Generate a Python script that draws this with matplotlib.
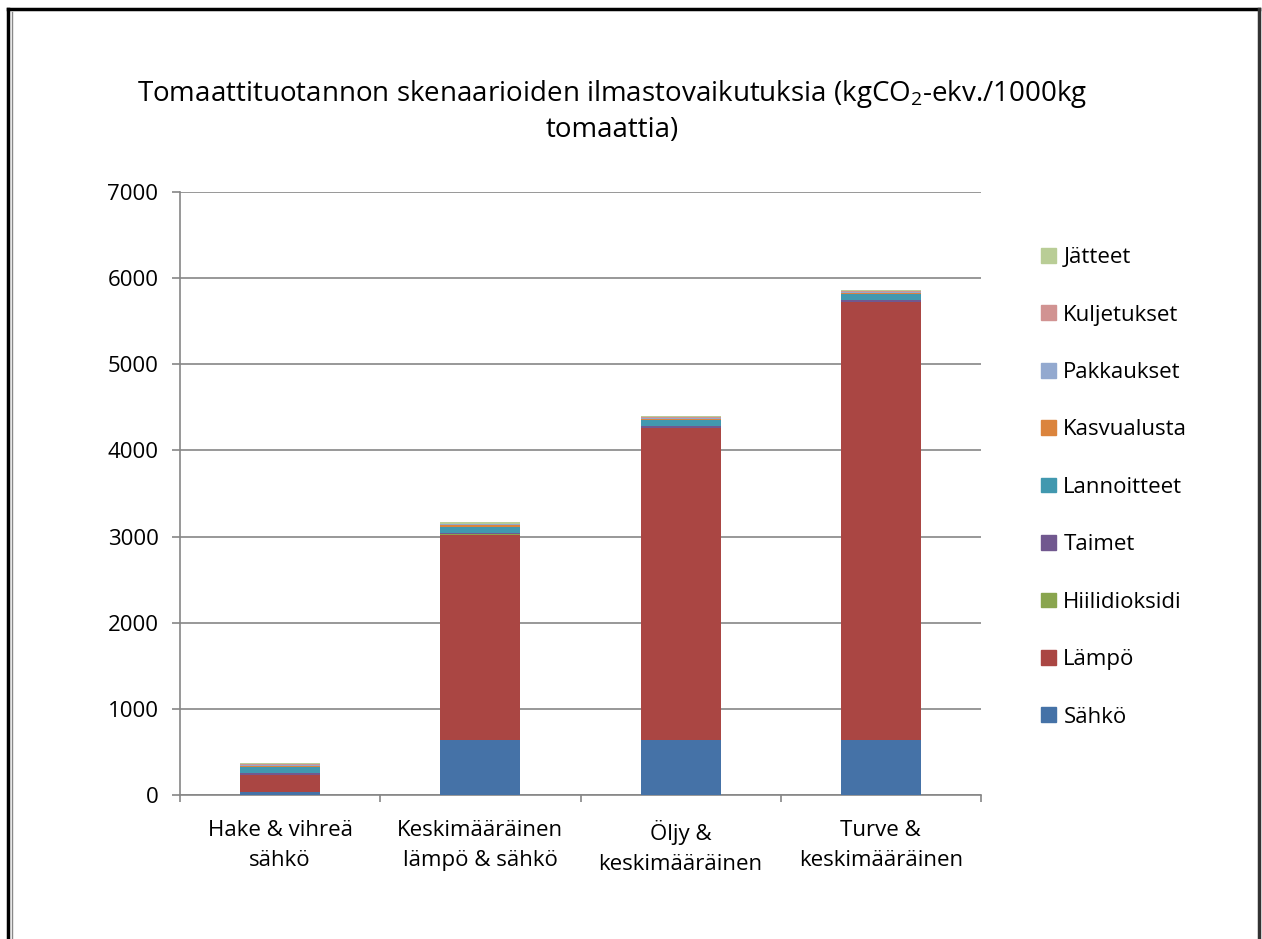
import numpy as np
import matplotlib.pyplot as plt
from matplotlib.patches import Rectangle
from matplotlib.lines import Line2D

plt.rcParams['font.family'] = ['Open Sans', 'DejaVu Sans']
plt.rcParams['mathtext.fontset'] = 'custom'
plt.rcParams['mathtext.rm'] = 'Open Sans'
plt.rcParams['mathtext.it'] = 'Open Sans'

# skenaariot
skenaariot = ["Hake & vihreä\nsähkö", "Keskimääräinen\nlämpö & sähkö",
              "Öljy &\nkeskimääräinen", "Turve &\nkeskimääräinen"]

# kgCO2-ekv./1000kg tomaattia, osuudet alhaalta ylös
sahko = [35, 640, 640, 640]
lampo = [195, 2380, 3620, 5080]
hiilidioksidi = [5, 5, 5, 5]
taimet = [20, 20, 20, 20]
lannoitteet = [70, 70, 70, 70]
kasvualusta = [15, 15, 15, 15]
pakkaukset = [12, 12, 12, 12]
kuljetukset = [8, 8, 8, 8]
jatteet = [15, 15, 15, 15]

osat = [("Sähkö", sahko, "#4572A7"),
        ("Lämpö", lampo, "#AA4643"),
        ("Hiilidioksidi", hiilidioksidi, "#89A54E"),
        ("Taimet", taimet, "#71588F"),
        ("Lannoitteet", lannoitteet, "#4198AF"),
        ("Kasvualusta", kasvualusta, "#DB843D"),
        ("Pakkaukset", pakkaukset, "#93A9CF"),
        ("Kuljetukset", kuljetukset, "#D19392"),
        ("Jätteet", jatteet, "#B9CD96")]

W, H = 1262, 939
fs = 16
fig = plt.figure(figsize=(W / 100, H / 100), dpi=100)
ax = fig.add_axes([180 / W, 1 - 795 / H, 801 / W, 603 / H])

x = np.arange(len(skenaariot))
pohja = np.zeros(len(skenaariot))
kahvat = []
for nimi, arvot, vari in osat:
    ax.bar(x, arvot, width=0.4, bottom=pohja, color=vari, zorder=3)
    pohja += np.array(arvot)
    kahvat.append((Rectangle((0, 0), 1, 1, color=vari), nimi))

ax.set_xlim(-0.5, len(skenaariot) - 0.5)
ax.set_ylim(0, 7000)
ax.set_yticks(range(0, 7001, 1000))
ax.yaxis.grid(True, color="#868686", lw=1.2, zorder=0)
for s in ["top", "right"]:
    ax.spines[s].set_visible(False)
for s in ["left", "bottom"]:
    ax.spines[s].set_color("#868686")
    ax.spines[s].set_linewidth(1.2)

ax.set_xticks(np.arange(-0.5, len(skenaariot)), labels=[])
ax.set_xticks(x, labels=skenaariot, minor=True)
ax.tick_params(axis="x", which="major", length=5, width=1.2, color="#868686")
ax.tick_params(axis="x", which="minor", length=0, pad=18, labelsize=fs)
ax.tick_params(axis="y", length=5.5, width=1.2, color="#868686", labelsize=fs, pad=10)
for t in ax.get_xticklabels(minor=True):
    t.set_linespacing(1.55)

kahvat = kahvat[::-1]
fig.legend([k[0] for k in kahvat], [k[1] for k in kahvat],
           loc="upper left", bbox_to_anchor=(1030 / W, 1 - 236 / H),
           frameon=False, fontsize=fs, handlelength=0.65, handleheight=0.65,
           handletextpad=0.35, labelspacing=1.64, borderpad=0)

fig.text(612 / W, 1 - 111 / H,
         "Tomaattituotannon skenaarioiden ilmastovaikutuksia (kgCO$_2$-ekv./1000kg\ntomaattia)",
         ha="center", va="center", fontsize=20, linespacing=1.3)

# kehys
fig.add_artist(Line2D([8 / W, 8 / W], [0, 1 - 9 / H], color="black", lw=2.5))
fig.add_artist(Line2D([8 / W, 1259 / W], [1 - 9 / H, 1 - 9 / H], color="black", lw=2.5))
fig.add_artist(Line2D([1259 / W, 1259 / W], [0, 1 - 9 / H], color="#333333", lw=2.5))
fig.add_artist(Line2D([11.5 / W, 11.5 / W], [0, 1 - 12 / H], color="#888888", lw=1))

fig.savefig("out.png", dpi=100)
